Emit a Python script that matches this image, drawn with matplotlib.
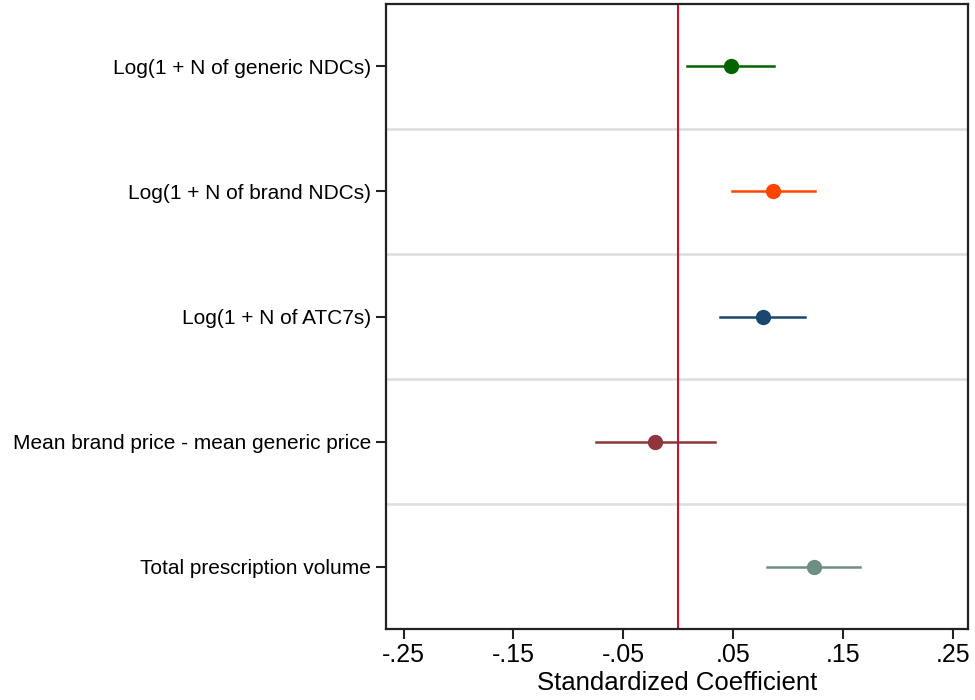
import matplotlib
matplotlib.use("Agg")
import matplotlib.pyplot as plt

plt.rcParams['font.family'] = ['Liberation Sans', 'DejaVu Sans']

# coefficient plot data
labels = ["Log(1 + N of generic NDCs)",
          "Log(1 + N of brand NDCs)",
          "Log(1 + N of ATC7s)",
          "Mean brand price - mean generic price",
          "Total prescription volume"]
coef = [0.048, 0.086, 0.077, -0.021, 0.124]
ci_lo = [0.008, 0.049, 0.038, -0.075, 0.081]
ci_hi = [0.087, 0.125, 0.116, 0.034, 0.166]
colors = ["#006400", "#FF4500", "#1A476F", "#90353B", "#6E8E84"]
xticks = [-0.25, -0.15, -0.05, 0.05, 0.15, 0.25]
xticklabels = ["-.25", "-.15", "-.05", ".05", ".15", ".25"]

fig = plt.figure(figsize=(9.75, 7), dpi=100)
ax = fig.add_axes([0.3964, 0.1014, 0.5964, 0.8929])

ypos = list(range(1, len(labels) + 1))

# light separators between rows
for y in ypos[:-1]:
    ax.axhline(y + 0.5, color="#DDDDDD", lw=1.8, zorder=0)

ax.axvline(0, color="#C8102E", lw=1.5, zorder=1)

for y, c, lo, hi, col in zip(ypos, coef, ci_lo, ci_hi, colors):
    ax.plot([lo, hi], [y, y], color=col, lw=1.8, zorder=2)
    ax.plot(c, y, "o", color=col, ms=10, zorder=3)

ax.set_xlim(-0.2655, 0.264)
ax.set_ylim(5.5, 0.5)
ax.set_yticks(ypos)
ax.set_yticklabels(labels, fontsize=15)
ax.set_xticks(xticks)
ax.set_xticklabels(xticklabels, fontsize=18)
ax.set_xlabel("Standardized Coefficient", fontsize=18.5, labelpad=3)
ax.tick_params(axis="both", length=7, width=1.5, color="#222222")
ax.tick_params(axis="y", pad=4)
ax.tick_params(axis="x", pad=3)
for s in ax.spines.values():
    s.set_linewidth(1.6)
    s.set_color("#222222")

fig.savefig("out.png", dpi=100)
